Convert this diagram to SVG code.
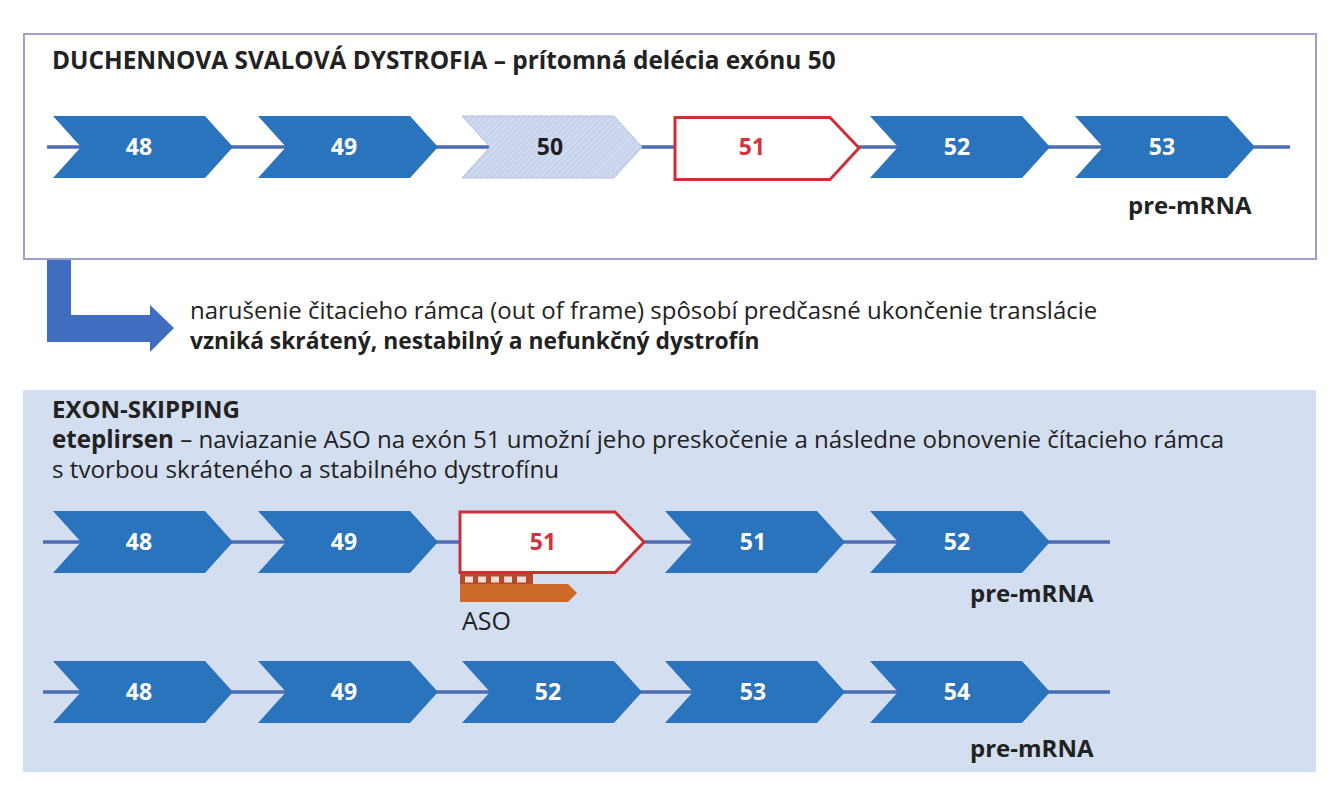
<svg xmlns="http://www.w3.org/2000/svg" xmlns:xlink="http://www.w3.org/1999/xlink" width="1342" height="800" viewBox="0 0 1342 800">
<style>
.t{font-family:"Open Sans","Noto Sans","Liberation Sans",sans-serif;fill:#222;}
.b{font-weight:bold;}
.lbl{font-family:"Open Sans","Noto Sans","Liberation Sans",sans-serif;font-weight:bold;font-size:23px;text-anchor:middle;fill:#fff;}
.red{fill:#d3343c;}
.dark{fill:#1e1e1e;}
.strand{stroke:#4d6cb6;stroke-width:3.5;fill:none;}
.exon{fill:#2a73bd;}
.redbox{fill:#fff;stroke:#cc3035;stroke-width:3;stroke-linejoin:miter;}
.pm{font-size:24px;}
</style>
<defs>
<path id="chev" d="M0,0 H152 L180,31 L152,62 H0 L28,31 Z"/>
<pattern id="hatch" width="4" height="4" patternUnits="userSpaceOnUse" patternTransform="rotate(45)">
<rect width="4" height="4" fill="#cfd9ef"/>
<line x1="0" y1="0" x2="0" y2="4" stroke="#b7c4e2" stroke-width="1.2"/>
</pattern>
</defs>
<rect width="1342" height="800" fill="#fff"/>

<g id="panel-top">
<rect x="24" y="34" width="1292" height="225" fill="#fff" stroke="#9e9ecf" stroke-width="2"/>
<text class="t b" x="52" y="69" font-size="24.4">DUCHENNOVA SVALOVÁ DYSTROFIA – prítomná delécia exónu 50</text>
</g>

<g id="panel-bottom">
<rect x="23" y="390" width="1293" height="382" fill="#d3def0"/>
<text class="t b" x="52" y="418" font-size="24">EXON-SKIPPING</text>
<text class="t" x="52" y="448" font-size="24.1"><tspan class="b">eteplirsen</tspan> – naviazanie ASO na exón 51 umožní jeho preskočenie a následne obnovenie čítacieho rámca</text>
<text class="t" x="52" y="478" font-size="24.2">s tvorbou skráteného a stabilného dystrofínu</text>
</g>

<g id="connectors">
<line class="strand" x1="47" y1="147" x2="1290" y2="147"/>
<line class="strand" x1="43" y1="542" x2="1110" y2="542"/>
<line class="strand" x1="43" y1="692" x2="1110" y2="692"/>
<polygon id="arrow" points="47,260 71,260 71,315 150,315 150,305 174,328 150,352 150,342 47,342" fill="#3f6dbf"/>
</g>

<g id="row1">
<g id="r1-e48"><use href="#chev" x="53" y="116" class="exon"/><text class="lbl" x="139" y="155">48</text></g>
<g id="r1-e49"><use href="#chev" x="258" y="116" class="exon"/><text class="lbl" x="344" y="155">49</text></g>
<g id="r1-e50"><use href="#chev" x="462" y="116" fill="url(#hatch)" stroke="#b3c1e0" stroke-width="1"/><text class="lbl dark" x="550" y="155">50</text></g>
<g id="r1-e51"><polygon class="redbox" points="675,117.5 830,117.5 859,148 830,179.5 675,179.5"/><text class="lbl red" x="752" y="155">51</text></g>
<g id="r1-e52"><use href="#chev" x="870" y="116" class="exon"/><text class="lbl" x="957" y="155">52</text></g>
<g id="r1-e53"><use href="#chev" x="1075" y="116" class="exon"/><text class="lbl" x="1162" y="155">53</text></g>
<text class="t b pm" x="1128" y="214">pre-mRNA</text>
</g>

<g id="row2">
<g id="r2-e48"><use href="#chev" x="53" y="511" class="exon"/><text class="lbl" x="139" y="550">48</text></g>
<g id="r2-e49"><use href="#chev" x="258" y="511" class="exon"/><text class="lbl" x="344" y="550">49</text></g>
<g id="r2-e51red"><polygon class="redbox" points="460,512 615,512 644,542 615,572.5 460,572.5"/><text class="lbl red" x="543" y="550">51</text></g>
<g id="r2-e51"><use href="#chev" x="665" y="511" class="exon"/><text class="lbl" x="753" y="550">51</text></g>
<g id="r2-e52"><use href="#chev" x="870" y="511" class="exon"/><text class="lbl" x="957" y="550">52</text></g>
<g id="aso">
<rect x="460" y="574" width="73" height="11" fill="#b8472c"/>
<rect x="465" y="576.5" width="8" height="6" fill="#efdcd4"/>
<rect x="478" y="576.5" width="8" height="6" fill="#efdcd4"/>
<rect x="491" y="576.5" width="8" height="6" fill="#efdcd4"/>
<rect x="504" y="576.5" width="8" height="6" fill="#efdcd4"/>
<rect x="517" y="576.5" width="9" height="6" fill="#efdcd4"/>
<polygon points="460,584 568,584 577,593 568,602 460,602" fill="#cd6a29"/>
<text class="t" x="462" y="630" font-size="25" fill="#333">ASO</text>
</g>
<text class="t b pm" x="970" y="602">pre-mRNA</text>
</g>

<g id="row3">
<g id="r3-e48"><use href="#chev" x="53" y="661" class="exon"/><text class="lbl" x="139" y="700">48</text></g>
<g id="r3-e49"><use href="#chev" x="258" y="661" class="exon"/><text class="lbl" x="344" y="700">49</text></g>
<g id="r3-e52"><use href="#chev" x="462" y="661" class="exon"/><text class="lbl" x="548" y="700">52</text></g>
<g id="r3-e53"><use href="#chev" x="665" y="661" class="exon"/><text class="lbl" x="753" y="700">53</text></g>
<g id="r3-e54"><use href="#chev" x="870" y="661" class="exon"/><text class="lbl" x="957" y="700">54</text></g>
<text class="t b pm" x="970" y="757">pre-mRNA</text>
</g>

<g id="note">
<text class="t" x="190" y="319" font-size="24">narušenie čitacieho rámca (out of frame) spôsobí predčasné ukončenie translácie</text>
<text class="t b" x="190" y="349" font-size="22.8">vzniká skrátený, nestabilný a nefunkčný dystrofín</text>
</g>
</svg>
